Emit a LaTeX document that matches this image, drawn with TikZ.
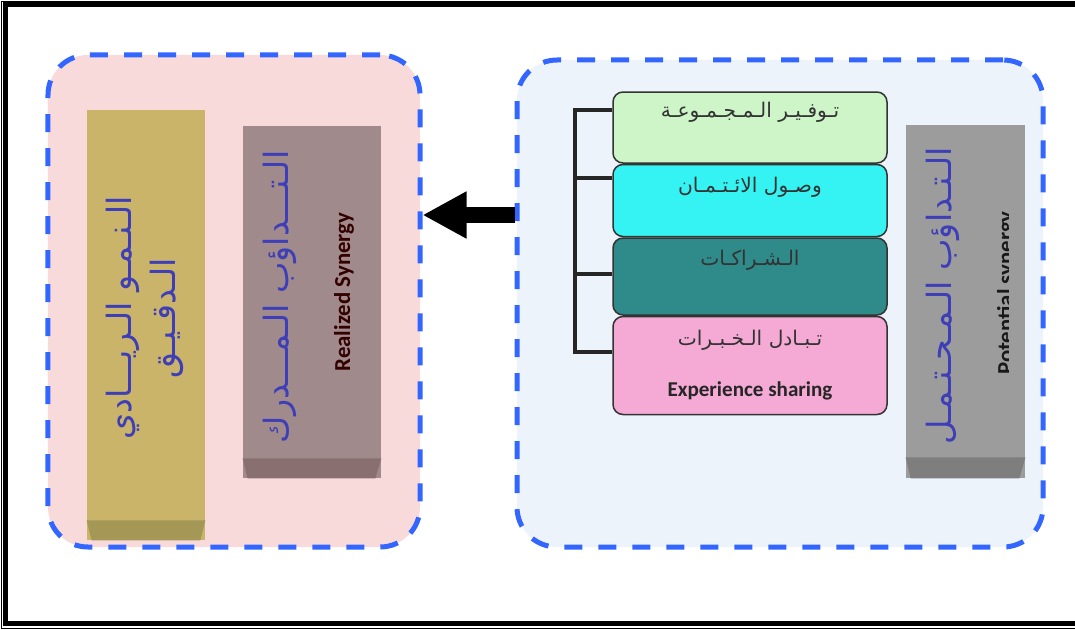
\documentclass[tikz,border=0pt]{standalone}
\usepackage{fontspec}
\setmainfont{Carlito}
\newfontfamily\arabicfont[Script=Arabic]{DejaVu Sans}
\TeXXeTstate=1
\usepackage{tikz}
\usetikzlibrary{arrows.meta, calc, positioning}
\definecolor{dashblue}{HTML}{3366FF}
\definecolor{panelpink}{HTML}{F9DADB}
\definecolor{panelblue}{HTML}{EDF3FB}
\definecolor{olive}{HTML}{C9B46A}
\definecolor{olivedark}{HTML}{A59857}
\definecolor{mauve}{HTML}{A08A8B}
\definecolor{mauvedark}{HTML}{8A6F70}
\definecolor{steel}{HTML}{9C9C9C}
\definecolor{steeldark}{HTML}{7E7E7E}
\definecolor{layergreen}{HTML}{CDF5C7}
\definecolor{layercyan}{HTML}{36F3F3}
\definecolor{layerteal}{HTML}{2F8A8A}
\definecolor{layerpink}{HTML}{F5A9D5}
\definecolor{layeredge}{HTML}{333333}
\definecolor{textgray}{HTML}{333333}
\definecolor{arabicblue}{HTML}{3E3EB8}
\tikzstyle{panel} = [rectangle, draw=dashblue, line width=1mm, dash pattern=on 3.6mm off 3.2mm, rounded corners=8mm, inner sep=0pt]
\tikzstyle{pillar} = [rectangle, inner sep=0pt]
\tikzstyle{layer} = [rectangle, rounded corners=2mm, draw=layeredge, line width=0.3mm, minimum width=54.8mm, inner sep=0pt]
\tikzstyle{layertext} = [text=textgray, font=\arabicfont\fontsize{11.5}{13}\selectfont, inner sep=0pt]
\tikzstyle{vlabel} = [rotate=90, text=arabicblue, font=\arabicfont\fontsize{19}{25}\selectfont, align=center, inner sep=0pt]
\tikzstyle{elabel} = [rotate=90, font=\bfseries\fontsize{13}{15}\selectfont, inner sep=0pt]
\tikzstyle{arrow} = [line width=3.2mm, -{Triangle[length=8.8mm, width=8.8mm]}]
\tikzstyle{bracket} = [line width=0.8mm, draw=black!85]

\begin{document}
\begin{tikzpicture}[x=0.2mm, y=-0.2mm]
		\useasboundingbox (0,0) rectangle (1075,630);
		\draw [line width=0.2mm] (1.7,1.5) rectangle (1080,628.3);
		\draw [line width=1mm] (5.5,4.5) rectangle (1080,623);
		\node (LeftPanel) [panel, fill=panelpink, minimum width=74.4mm, minimum height=98.4mm] at (234,301) {};
		\node (RightPanel) [panel, fill=panelblue, minimum width=105.2mm, minimum height=97.4mm] at (780,303.5) {};
		\node (Growth) [pillar, fill=olive, minimum width=23.6mm, minimum height=86mm] at (146,325) {};
		\fill [olivedark] ($(Growth.south west)+(0,-20)$) -- ($(Growth.south east)+(0,-20)$) -- ($(Growth.south east)+(-5,0)$) -- ($(Growth.south west)+(5,0)$) -- cycle;
		\node (Realized) [pillar, fill=mauve, minimum width=27.6mm, minimum height=70.4mm] at (312,302) {};
		\fill [mauvedark] ($(Realized.south west)+(0,-20)$) -- ($(Realized.south east)+(0,-20)$) -- ($(Realized.south east)+(-6,0)$) -- ($(Realized.south west)+(5,0)$) -- cycle;
		\node (Potential) [pillar, fill=steel, minimum width=23.8mm, minimum height=70.6mm] at (965.5,301.5) {};
		\fill [steeldark] ($(Potential.south west)+(0,-21)$) -- ($(Potential.south east)+(0,-21)$) -- ($(Potential.south east)+(-6,0)$) -- ($(Potential.south west)+(5,0)$) -- cycle;
		\node (GrowthText) [vlabel] at (145,318) {\beginR الـنـمـو الـريـــادي\endR\\\beginR الـدقـيـق\endR};
		\node (RealizedText) [vlabel] at (280,297) {\beginR الـتـــداؤب الـمـــدرك\endR};
		\node (RealizedEn) [elabel, text=black!80!red] at (344,292) {Realized Synergy};
		\node (PotentialText) [vlabel] at (943,296) {\beginR الـتـداؤب الـمـحـتـمـل\endR};
		\begin{scope}
			\clip (900,100) rectangle (1008,500);
			\node (PotentialEn) [elabel, text=black!90] at (1007,293) {Potential synergy};
		\end{scope}
		\node (Pooling) [layer, fill=layergreen, minimum height=14.2mm] at (750,127.5) {};
		\node (Credit) [layer, fill=layercyan, minimum height=14.4mm, below = 0mm of Pooling] {};
		\node (Alliances) [layer, fill=layerteal, minimum height=15.4mm, below = 0mm of Credit] {};
		\node (Sharing) [layer, fill=layerpink, minimum height=19.6mm, below = 0mm of Alliances] {};
		\node (PoolingText) [layertext] at ([yshift=-4.2mm]Pooling.north) {\beginR تـوفـيـر الـمـجـمـوعـة\endR};
		\node (CreditText) [layertext] at ([yshift=-4.8mm]Credit.north) {\beginR وصـول الائـتـمـان\endR};
		\node (AlliancesText) [layertext] at ([yshift=-4.6mm]Alliances.north) {\beginR الـشـراكـات\endR};
		\node (SharingText) [layertext] at ([yshift=-5mm]Sharing.north) {\beginR تـبـادل الـخـبـرات\endR};
		\node (SharingEn) [font=\bfseries\fontsize{12}{14}\selectfont, text=black!85, inner sep=0pt] at ([yshift=-15mm]Sharing.north) {Experience sharing};
		\coordinate (Tick1) at (575,110);
		\coordinate (Tick2) at (575,178);
		\coordinate (Tick3) at (575,274);
		\coordinate (Tick4) at (575,352);
		\draw [bracket] (Pooling.west |- Tick1) -- (Tick1) -- (Tick4) -- (Sharing.west |- Tick4);
		\draw [bracket] (Tick2) -- (Credit.west |- Tick2);
		\draw [bracket] (Tick3) -- (Alliances.west |- Tick3);
		\coordinate (ArrowLevel) at (0,215);
		\draw [arrow] (RightPanel.west |- ArrowLevel) -- (LeftPanel.east |- ArrowLevel);
\end{tikzpicture}
\end{document}
